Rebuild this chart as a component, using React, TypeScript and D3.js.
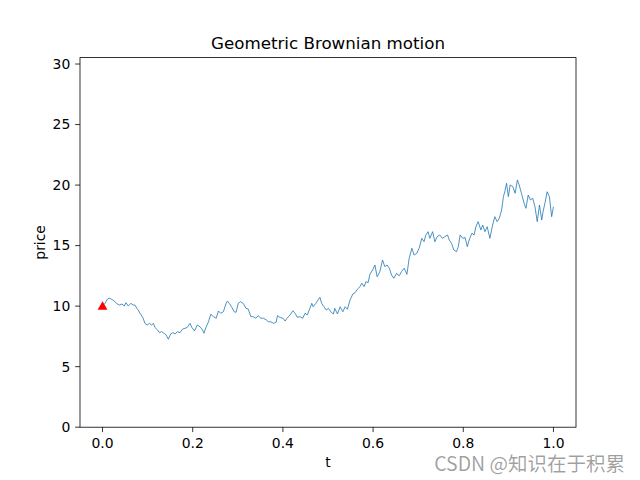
import React from "react";
import * as d3 from "d3";

const tValues: number[] = [
  0.000, 0.006, 0.011, 0.015, 0.020, 0.025, 0.031, 0.037, 0.043, 0.048,
  0.052, 0.057, 0.063, 0.068, 0.072, 0.076, 0.079, 0.083, 0.087, 0.090,
  0.094, 0.099, 0.104, 0.109, 0.113, 0.116, 0.122, 0.126, 0.131, 0.136,
  0.141, 0.146, 0.151, 0.156, 0.161, 0.166, 0.172, 0.177, 0.183, 0.188,
  0.194, 0.198, 0.204, 0.210, 0.216, 0.222, 0.225, 0.229, 0.235, 0.240,
  0.246, 0.252, 0.257, 0.262, 0.268, 0.274, 0.277, 0.281, 0.286, 0.292,
  0.296, 0.301, 0.306, 0.312, 0.318, 0.323, 0.329, 0.334, 0.340, 0.345,
  0.351, 0.357, 0.363, 0.368, 0.373, 0.379, 0.385, 0.388, 0.394, 0.400,
  0.405, 0.409, 0.416, 0.422, 0.427, 0.432, 0.438, 0.444, 0.449, 0.454,
  0.460, 0.464, 0.467, 0.473, 0.478, 0.482, 0.486, 0.491, 0.496, 0.501,
  0.506, 0.512, 0.515, 0.521, 0.527, 0.533, 0.538, 0.543, 0.549, 0.555,
  0.560, 0.565, 0.571, 0.575, 0.580, 0.584, 0.589, 0.593, 0.599, 0.604,
  0.609, 0.615, 0.621, 0.626, 0.631, 0.636, 0.641, 0.646, 0.652, 0.658,
  0.663, 0.669, 0.675, 0.680, 0.686, 0.691, 0.697, 0.702, 0.708, 0.713,
  0.717, 0.722, 0.726, 0.732, 0.737, 0.742, 0.748, 0.754, 0.759, 0.765,
  0.769, 0.774, 0.779, 0.785, 0.789, 0.793, 0.799, 0.804, 0.809, 0.813,
  0.819, 0.824, 0.828, 0.833, 0.839, 0.843, 0.848, 0.853, 0.859, 0.865,
  0.870, 0.875, 0.880, 0.885, 0.889, 0.892, 0.896, 0.900, 0.904, 0.910,
  0.915, 0.920, 0.924, 0.929, 0.935, 0.939, 0.944, 0.949, 0.954, 0.959,
  0.964, 0.969, 0.974, 0.977, 0.981, 0.986, 0.991, 0.996, 1.000,
];

const priceValues: number[] = [
  10.00, 10.26, 10.59, 10.65, 10.57, 10.45, 10.23, 10.09, 10.18, 10.01,
  10.28, 10.01, 10.23, 10.09, 10.09, 9.82, 9.68, 9.41, 9.19, 9.00,
  8.58, 8.44, 8.58, 8.44, 8.58, 8.25, 8.03, 7.81, 7.89, 7.76,
  7.62, 7.26, 7.70, 7.81, 7.70, 7.89, 7.81, 8.09, 8.17, 8.25,
  8.58, 8.25, 7.95, 8.44, 8.30, 8.03, 7.76, 8.22, 8.71, 9.33,
  9.13, 9.00, 9.60, 9.41, 9.54, 10.23, 10.42, 10.23, 9.95, 9.54,
  9.49, 10.23, 10.37, 10.23, 9.82, 9.76, 9.13, 9.13, 9.00, 9.21,
  9.00, 9.00, 8.86, 8.71, 8.71, 8.58, 8.67, 9.21, 9.06, 9.00,
  8.77, 9.00, 9.27, 9.62, 9.41, 9.08, 9.13, 9.00, 9.41, 9.27,
  9.82, 10.23, 9.95, 10.23, 10.51, 10.73, 10.23, 9.95, 9.68, 9.82,
  9.54, 9.35, 9.82, 9.35, 9.95, 9.54, 9.95, 9.74, 10.51, 11.00,
  11.11, 11.39, 11.61, 11.89, 11.61, 12.02, 11.94, 12.64, 12.99, 13.40,
  12.43, 12.85, 13.81, 13.26, 13.40, 13.13, 12.57, 12.30, 12.71, 12.51,
  12.85, 13.13, 12.63, 13.95, 14.78, 14.22, 14.36, 14.78, 15.60, 15.32,
  15.88, 16.15, 15.60, 16.15, 15.32, 15.74, 15.88, 15.60, 15.74, 15.88,
  15.46, 15.19, 14.64, 14.50, 14.91, 15.88, 15.60, 15.67, 14.91, 15.46,
  16.02, 15.88, 16.56, 16.98, 16.29, 16.70, 16.15, 16.56, 15.60, 16.70,
  17.39, 16.98, 17.26, 17.94, 19.04, 19.45, 20.15, 19.04, 20.01, 19.87,
  19.32, 20.42, 20.01, 19.32, 18.49, 18.08, 19.18, 18.77, 18.91, 18.21,
  16.98, 18.35, 17.12, 17.80, 18.49, 19.45, 19.04, 17.39, 18.21,
];

const startT = 0;
const startPrice = 10;

const xTicks = [0.0, 0.2, 0.4, 0.6, 0.8, 1.0];
const yTicks = [0, 5, 10, 15, 20, 25, 30];

const titleText = "Geometric Brownian motion";
const xLabel = "t";
const yLabel = "price";
const watermark = "CSDN @知识在于积累";

export default function App() {
  const W = 640, H = 480;
  const left = 80, right = 576, top = 57.6, bottom = 427.2;
  const x = d3.scaleLinear().domain([-0.05, 1.05]).range([left, right]);
  const y = d3.scaleLinear().domain([0, 30.53]).range([bottom, top]);
  const pts = tValues.map((t, i) => [t, priceValues[i]] as [number, number]);
  const line = d3.line<[number, number]>().x(d => x(d[0])).y(d => y(d[1]));
  const font = "DejaVu Sans, sans-serif";
  const tickLen = 4.86;
  const tx = x(startT), ty = y(startPrice);
  const tri = d3.symbol().type(d3.symbolTriangle).size(42)();
  return (
    <svg width={W} height={H} style={{ position: "absolute", left: 0, top: 0, background: "#fff" }}>
      <rect x={0} y={0} width={W} height={H} fill="#fff" />
      <path d={line(pts) || ""} fill="none" stroke="#1f77b4" strokeWidth={0.8} strokeLinejoin="round" />
      <path d={tri || ""} transform={`translate(${tx},${ty + 0.8})`} fill="red" />
      <rect x={left} y={top} width={right - left} height={bottom - top} fill="none" stroke="#000" strokeWidth={0.8} />
      {xTicks.map(t => (
        <g key={"x" + t}>
          <line x1={x(t)} x2={x(t)} y1={bottom} y2={bottom + tickLen} stroke="#000" strokeWidth={0.8} />
          <text x={x(t)} y={bottom + 20.5} textAnchor="middle" fontFamily={font} fontSize={13.9} fill="#000">{t.toFixed(1)}</text>
        </g>
      ))}
      {yTicks.map(v => (
        <g key={"y" + v}>
          <line x1={left - tickLen} x2={left} y1={y(v)} y2={y(v)} stroke="#000" strokeWidth={0.8} />
          <text x={left - 9.7} y={y(v)} dy="0.35em" textAnchor="end" fontFamily={font} fontSize={13.9} fill="#000">{v}</text>
        </g>
      ))}
      <text x={(left + right) / 2} y={top - 8.3} textAnchor="middle" fontFamily={font} fontSize={16.7} fill="#000">{titleText}</text>
      <text x={(left + right) / 2} y={467} textAnchor="middle" fontFamily={font} fontSize={13.9} fill="#000">{xLabel}</text>
      <text transform={`translate(45,${(top + bottom) / 2}) rotate(-90)`} textAnchor="middle" fontFamily={font} fontSize={13.9} fill="#000">{yLabel}</text>
      <text x={625} y={470.5} textAnchor="end" fontFamily="Noto Sans CJK SC, sans-serif" fontSize={19.5} fill="#000" fillOpacity={0.38}>{watermark}</text>
    </svg>
  );
}
